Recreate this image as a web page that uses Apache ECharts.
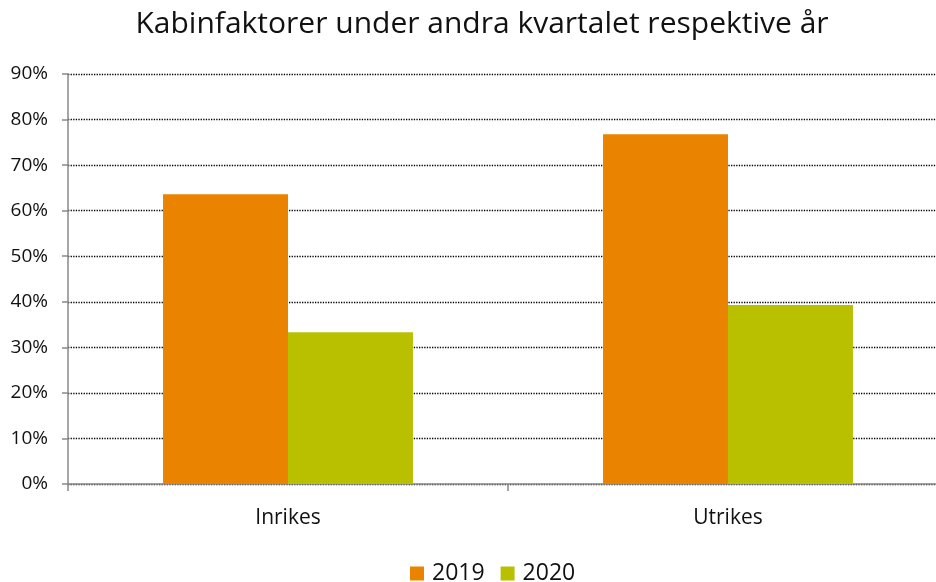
<!DOCTYPE html>
<html lang="sv">
<head>
<meta charset="utf-8" />
<title>Kabinfaktorer</title>
<script src="https://cdn.jsdelivr.net/npm/echarts@6/dist/echarts.min.js"></script>
<style>
  html, body { margin: 0; padding: 0; background: #fff; overflow: hidden; }
  #chart { width: 936px; height: 582px; }
</style>
</head>
<body>
<div id="chart"></div>
<script>
// kategorier och värden (procent)
const categories = ['Inrikes', 'Utrikes'];
const seriesNames = ['2019', '2020'];
const values2019 = [63.6, 76.8];
const values2020 = [33.3, 39.3];
const colors = ['#EA8400', '#B9C000'];

const chart = echarts.init(document.getElementById('chart'));
const font = '"Open Sans", "DejaVu Sans", sans-serif';

const option = {
  animation: false,
  title: {
    text: 'Kabinfaktorer under andra kvartalet respektive år',
    left: 477,
    textAlign: 'center',
    top: 4,
    textStyle: { fontFamily: font, fontSize: 30, fontWeight: 'normal', color: '#111' }
  },
  legend: {
    data: seriesNames,
    left: 405,
    top: 557,
    itemWidth: 14,
    itemHeight: 14,
    itemGap: 16,
    icon: 'rect',
    textStyle: { fontFamily: font, fontSize: 23, color: '#111', padding: [0, 0, 0, 3] }
  },
  // plottytan går något utanför bildens högra kant
  grid: { left: 68, width: 880, top: 74, bottom: 98, outerBoundsMode: 'none', containLabel: false },
  xAxis: {
    type: 'category',
    data: categories,
    axisLine: { lineStyle: { color: '#898989', width: 1.5 } },
    axisTick: { show: true, length: 7, lineStyle: { color: '#898989', width: 1.5 } },
    axisLabel: { margin: 24, fontFamily: font, fontSize: 21, color: '#111' },
    splitLine: { show: false }
  },
  yAxis: {
    type: 'value',
    min: 0,
    max: 90,
    interval: 10,
    axisLine: { show: true, lineStyle: { color: '#898989', width: 1.5 } },
    axisTick: { show: true, length: 6, lineStyle: { color: '#898989', width: 1.5 } },
    axisLabel: { formatter: '{value}%', margin: 20, fontFamily: font, fontSize: 19, color: '#111' },
    splitLine: { show: true, lineStyle: { type: 'dotted', color: '#000', width: 1.3 } }
  },
  series: [
    {
      name: seriesNames[0],
      type: 'bar',
      data: values2019,
      barGap: '0%',
      barCategoryGap: '43.2%',
      itemStyle: { color: colors[0] }
    },
    {
      name: seriesNames[1],
      type: 'bar',
      data: values2020,
      barGap: '0%',
      barCategoryGap: '43.2%',
      itemStyle: { color: colors[1] }
    }
  ]
};

chart.setOption(option);
</script>
</body>
</html>
